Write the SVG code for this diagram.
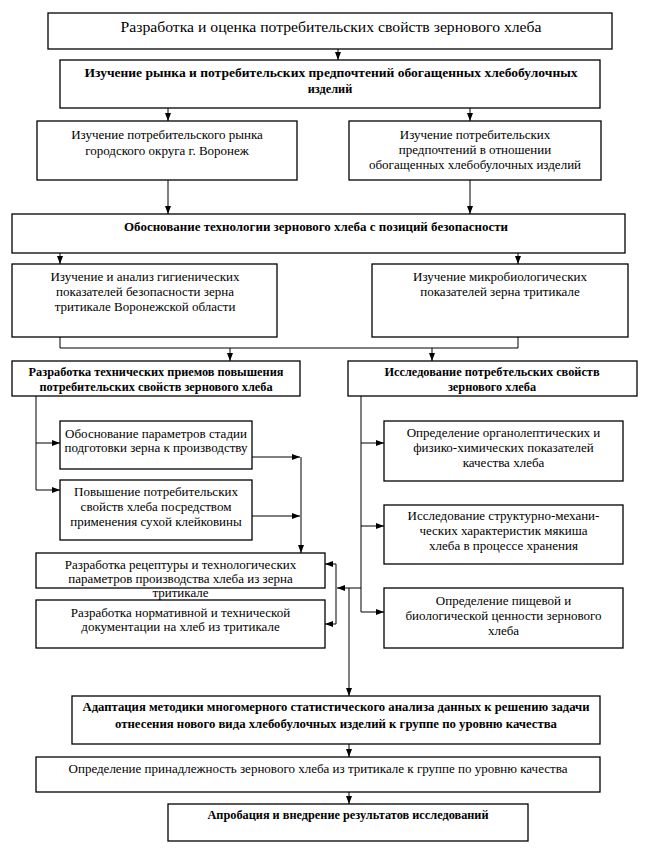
<svg xmlns="http://www.w3.org/2000/svg" width="649" height="865" viewBox="0 0 649 865">
<style>
.box{fill:#fff;stroke:#000;stroke-width:1.3}
.t{font-family:"Liberation Serif","Times New Roman",serif;font-size:13px;fill:#000;text-anchor:middle}
.b{font-family:"Liberation Serif","Times New Roman",serif;font-size:12.3px;font-weight:bold;fill:#000;text-anchor:middle}
.h{font-family:"Liberation Serif","Times New Roman",serif;font-size:15.5px;fill:#000;text-anchor:middle}
.c{fill:none;stroke:#000;stroke-width:1}
</style>
<defs>
<marker id="ar" viewBox="0 0 8 6" refX="8" refY="3" markerWidth="8" markerHeight="6" orient="auto" markerUnits="userSpaceOnUse"><path d="M0,0 L8,3 L0,6 z" fill="#000"/></marker>
</defs>
<rect width="649" height="865" fill="#fff"/>
<g id="connectors">
<path class="c" d="M338,49 V60" marker-end="url(#ar)"/>
<path class="c" d="M168,108 V121" marker-end="url(#ar)"/>
<path class="c" d="M470,108 V121" marker-end="url(#ar)"/>
<path class="c" d="M168,180 V214" marker-end="url(#ar)"/>
<path class="c" d="M470,180 V214" marker-end="url(#ar)"/>
<path class="c" d="M60,253 V264" marker-end="url(#ar)"/>
<path class="c" d="M518,253 V264" marker-end="url(#ar)"/>
<path class="c" d="M60,337 V348 H518 V337"/>
<path class="c" d="M230,348 V361" marker-end="url(#ar)"/>
<path class="c" d="M432,348 V361" marker-end="url(#ar)"/>
<path class="c" d="M36,396 V490"/>
<path class="c" d="M36,443 H60" marker-end="url(#ar)"/>
<path class="c" d="M36,490 H60" marker-end="url(#ar)"/>
<path class="c" d="M252,457 H300" marker-end="url(#ar)"/>
<path class="c" d="M252,516 H300" marker-end="url(#ar)"/>
<path class="c" d="M301,457 V553" marker-end="url(#ar)"/>
<path class="c" d="M361,396 V612"/>
<path class="c" d="M361,443 H384" marker-end="url(#ar)"/>
<path class="c" d="M361,526 H384" marker-end="url(#ar)"/>
<path class="c" d="M361,612 H384" marker-end="url(#ar)"/>
<path class="c" d="M361,588 H337" marker-end="url(#ar)"/>
<path class="c" d="M336,564 V624"/>
<path class="c" d="M336,564 H325" marker-end="url(#ar)"/>
<path class="c" d="M336,624 H325" marker-end="url(#ar)"/>
<path class="c" d="M349,588 V696" marker-end="url(#ar)"/>
<path class="c" d="M349,744 V757" marker-end="url(#ar)"/>
<path class="c" d="M349,792 V804" marker-end="url(#ar)"/>
</g>
<g id="n1"><rect class="box" x="48" y="13" width="564" height="36"/><text class="h" x="331" y="32" textLength="421" lengthAdjust="spacingAndGlyphs">Разработка и оценка потребительских свойств зернового хлеба</text></g>
<g id="n2"><rect class="box" x="60" y="60" width="540" height="48"/><text class="b" x="331" y="77" textLength="493" lengthAdjust="spacingAndGlyphs">Изучение рынка и  потребительских предпочтений обогащенных хлебобулочных</text><text class="b" x="330" y="93">изделий</text></g>
<g id="n3"><rect class="box" x="37" y="121" width="260" height="59"/><text class="t" x="167" y="139">Изучение потребительского рынка</text><text class="t" x="167" y="155">городского округа г. Воронеж</text></g>
<g id="n4"><rect class="box" x="349" y="121" width="252" height="59"/><text class="t" x="475" y="139">Изучение потребительских</text><text class="t" x="475" y="154">предпочтений  в отношении</text><text class="t" x="475" y="169">обогащенных хлебобулочных изделий</text></g>
<g id="n5"><rect class="box" x="12" y="214" width="613" height="39"/><text class="b" x="316" y="231" textLength="384" lengthAdjust="spacingAndGlyphs">Обоснование технологии зернового хлеба с позиций безопасности</text></g>
<g id="n6"><rect class="box" x="12" y="264" width="265" height="73"/><text class="t" x="145" y="281">Изучение и анализ гигиенических</text><text class="t" x="145" y="296">показателей  безопасности зерна</text><text class="t" x="145" y="311">тритикале Воронежской области</text></g>
<g id="n7"><rect class="box" x="372" y="264" width="256" height="73"/><text class="t" x="500" y="281">Изучение микробиологических</text><text class="t" x="500" y="296">показателей зерна тритикале</text></g>
<g id="n8"><rect class="box" x="12" y="361" width="288" height="35"/><text class="b" x="156" y="376">Разработка технических приемов повышения</text><text class="b" x="156" y="391">потребительских свойств зернового хлеба</text></g>
<g id="n9"><rect class="box" x="348" y="361" width="289" height="35"/><text class="b" x="492" y="376">Исследование потребтельских свойств</text><text class="b" x="492" y="391">зернового хлеба</text></g>
<g id="n10"><rect class="box" x="60" y="421" width="192" height="48"/><text class="t" x="156" y="438">Обоснование параметров стадии</text><text class="t" x="156" y="452">подготовки зерна к производству</text></g>
<g id="n11"><rect class="box" x="60" y="480" width="192" height="60"/><text class="t" x="156" y="496">Повышение потребительских</text><text class="t" x="156" y="511">свойств хлеба посредством</text><text class="t" x="156" y="526">применения сухой клейковины</text></g>
<g id="n12"><rect class="box" x="36" y="553" width="289" height="35"/><text class="t" x="180.5" y="569">Разработка рецептуры и технологических</text><text class="t" x="180.5" y="583">параметров производства хлеба из зерна</text><text class="t" x="180.5" y="597">тритикале</text></g>
<g id="n13"><rect class="box" x="36" y="600" width="289" height="48"/><text class="t" x="180.5" y="617">Разработка нормативной и технической</text><text class="t" x="180.5" y="631">документации на хлеб из тритикале</text></g>
<g id="n14"><rect class="box" x="384" y="421" width="239" height="60"/><text class="t" x="503.5" y="437">Определение органолептических и</text><text class="t" x="503.5" y="452">физико-химических показателей</text><text class="t" x="503.5" y="467">качества хлеба</text></g>
<g id="n15"><rect class="box" x="384" y="505" width="239" height="59"/><text class="t" x="503.5" y="520">Исследование структурно-механи-</text><text class="t" x="503.5" y="535">ческих характеристик мякиша</text><text class="t" x="503.5" y="550">хлеба в процессе хранения</text></g>
<g id="n16"><rect class="box" x="384" y="588" width="239" height="60"/><text class="t" x="503.5" y="605">Определение пищевой и</text><text class="t" x="503.5" y="620">биологической ценности зернового</text><text class="t" x="503.5" y="635">хлеба</text></g>
<g id="n17"><rect class="box" x="72" y="696" width="528" height="48"/><text class="b" x="336" y="711" textLength="507" lengthAdjust="spacingAndGlyphs">Адаптация методики многомерного статистического анализа данных к решению задачи</text><text class="b" x="336" y="728" textLength="442" lengthAdjust="spacingAndGlyphs">отнесения нового вида хлебобулочных изделий к  группе по уровню качества</text></g>
<g id="n18"><rect class="box" x="36" y="757" width="564" height="35"/><text class="t" x="318" y="773">Определение принадлежность зернового хлеба из тритикале к группе по уровню качества</text></g>
<g id="n19"><rect class="box" x="168" y="804" width="360" height="37"/><text class="b" x="348" y="819">Апробация и внедрение результатов исследований</text></g>
</svg>
